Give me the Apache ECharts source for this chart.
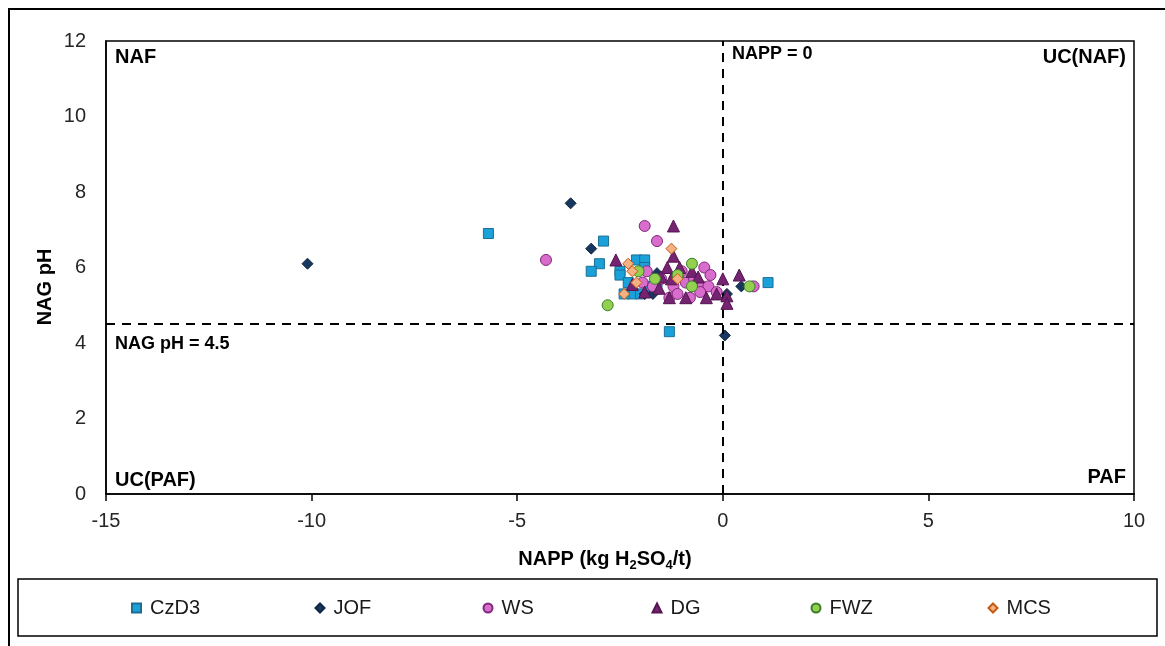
<!DOCTYPE html>
<html>
<head>
<meta charset="utf-8">
<script src="https://cdn.jsdelivr.net/npm/echarts@6/dist/echarts.min.js"></script>
<style>
  html, body { margin: 0; padding: 0; background: #fff; }
  #chart { width: 1165px; height: 646px; }
</style>
</head>
<body>
<div id="chart"></div>
<script>
// NAPP (kg H2SO4/t) vs NAG pH, one list of [NAPP, NAG pH] pairs per unit
const seriesNames = ['CzD3', 'JOF', 'WS', 'DG', 'FWZ', 'MCS'];

const czd3 = [
  [-5.7, 6.9], [-2.9, 6.7], [-3.0, 6.1], [-3.2, 5.9], [-2.1, 6.2], [-1.9, 6.2],
  [-1.9, 6.0], [-2.5, 5.9], [-2.5, 5.8], [-2.3, 5.6], [-2.2, 5.3], [-2.0, 5.3],
  [-2.4, 5.3], [-1.3, 4.3], [1.1, 5.6], [-1.8, 5.5], [-1.6, 5.6]
];
const jof = [
  [-10.1, 6.1], [-3.7, 7.7], [-3.2, 6.5], [-1.9, 5.3], [-1.7, 5.3], [-1.6, 5.85],
  [0.45, 5.5], [0.05, 4.2], [0.1, 5.3]
];
const ws = [
  [-4.3, 6.2], [-1.9, 7.1], [-1.6, 6.7], [-1.85, 5.9], [-1.95, 5.6], [-1.5, 5.7],
  [-1.2, 5.5], [-1.3, 5.2], [-1.1, 5.3], [-0.9, 5.6], [-0.7, 5.7], [-0.45, 6.0],
  [-0.3, 5.8], [-0.5, 5.5], [-0.35, 5.5], [-0.8, 5.2], [-0.55, 5.35], [-0.15, 5.35],
  [0.75, 5.5], [-1.7, 5.5], [-1.0, 5.9]
];
const dg = [
  [-1.2, 7.1], [-2.6, 6.2], [-1.2, 6.3], [-1.35, 6.0], [-1.05, 6.0], [-1.5, 5.75],
  [-1.25, 5.7], [-0.75, 5.9], [-0.6, 5.75], [0.0, 5.7], [0.4, 5.8], [-1.55, 5.45],
  [-1.3, 5.2], [-0.4, 5.2], [-0.15, 5.3], [0.1, 5.25], [0.1, 5.05], [-2.2, 5.55],
  [-0.9, 5.2], [-1.9, 5.35]
];
const fwz = [
  [-2.8, 5.0], [-0.75, 6.1], [-1.1, 5.8], [-1.65, 5.7], [-2.05, 5.9], [-0.75, 5.5],
  [0.65, 5.5]
];
const mcs = [
  [-1.25, 6.5], [-2.3, 6.1], [-2.2, 5.9], [-1.1, 5.7], [-2.1, 5.6], [-2.4, 5.3]
];

// classification limits
const nappLimit = 0;
const nagPhLimit = 4.5;

// axis ranges and tick spacing
const xMin = -15, xMax = 10, xStep = 5;
const yMin = 0, yMax = 12, yStep = 2;

const FONT = '"Liberation Sans", Arial, sans-serif';

const seriesData = [czd3, jof, ws, dg, fwz, mcs];
const styles = [
  { symbol: 'rect', size: 10, color: '#1BA1DA', border: '#1B6F93' },
  { symbol: 'diamond', size: 11, color: '#17375E', border: '#0E2642' },
  { symbol: 'circle', size: 11, color: '#D86DCD', border: '#80287A' },
  { symbol: 'triangle', size: 12, color: '#742470', border: '#561452' },
  { symbol: 'circle', size: 11, color: '#92D050', border: '#3E7D26' },
  { symbol: 'diamond', size: 11, color: '#F4B183', border: '#C55A11' }
];

const series = seriesNames.map((name, i) => ({
  name: name,
  type: 'scatter',
  data: seriesData[i],
  symbol: styles[i].symbol,
  symbolSize: styles[i].size,
  itemStyle: { color: styles[i].color, borderColor: styles[i].border, borderWidth: 1, opacity: 1 },
  emphasis: { disabled: true },
  z: 3 + i
}));

// dashed limit lines
series[0].markLine = {
  silent: true,
  symbol: 'none',
  animation: false,
  label: { show: false },
  lineStyle: { color: '#000', width: 2, type: [9, 7] },
  data: [{ xAxis: nappLimit }, { yAxis: nagPhLimit }]
};

// one legend block per unit, spread across the framed strip
const legendCenters = [135.5, 319, 487, 656, 815, 992];
const legends = seriesNames.map((name, i) => ({
  data: [name],
  left: legendCenters[i] - 4.5,
  top: 598,
  padding: 0,
  itemWidth: 9,
  itemHeight: 9,
  itemGap: 0,
  selectedMode: false,
  textStyle: { fontFamily: FONT, fontSize: 20, color: '#1a1a1a', padding: [0, 0, 0, 4] }
}));

const boldLabel = (text, x, y, align, size) => ({
  type: 'text',
  x: x, y: y,
  style: {
    text: text,
    align: align || 'left',
    verticalAlign: 'middle',
    font: 'bold ' + (size || 20) + 'px ' + FONT,
    fill: '#000'
  },
  silent: true,
  z: 20
});

const chart = echarts.init(document.getElementById('chart'), null, { renderer: 'canvas' });
chart.setOption({
  animation: false,
  backgroundColor: '#fff',
  grid: {
    left: 106, right: 31, top: 41, bottom: 152,
    show: true, borderColor: '#000', borderWidth: 1.5, backgroundColor: '#fff'
  },
  legend: legends,
  xAxis: {
    type: 'value',
    min: xMin, max: xMax, interval: xStep,
    axisLine: { show: true, onZero: false, lineStyle: { color: '#000', width: 1.5 } },
    axisTick: { show: true, inside: false, length: 7, lineStyle: { color: '#000', width: 1.5 } },
    axisLabel: { margin: 17, fontFamily: FONT, fontSize: 20, color: '#262626' },
    splitLine: { show: false }
  },
  yAxis: {
    type: 'value',
    min: yMin, max: yMax, interval: yStep,
    axisLine: { show: true, onZero: false, lineStyle: { color: '#000', width: 1.5 } },
    axisTick: { show: false },
    axisLabel: { margin: 20, fontFamily: FONT, fontSize: 20, color: '#262626' },
    splitLine: { show: false }
  },
  graphic: [
    // outer frame
    { type: 'rect', shape: { x: 9, y: 9, width: 1200, height: 700 },
      style: { fill: 'none', stroke: '#000', lineWidth: 2 }, silent: true, z: 0 },
    // legend frame
    { type: 'rect', shape: { x: 18, y: 579, width: 1139, height: 57 },
      style: { fill: 'none', stroke: '#000', lineWidth: 1.5 }, silent: true, z: 0 },
    // axis titles
    { type: 'text', x: 605, y: 561, silent: true,
      style: {
        text: '{b|NAPP (kg H}{s|2}{b|SO}{s|4}{b|/t)}',
        align: 'center', verticalAlign: 'middle',
        rich: {
          b: { font: 'bold 20px ' + FONT, fill: '#000', verticalAlign: 'top', lineHeight: 24 },
          s: { font: 'bold 13px ' + FONT, fill: '#000', verticalAlign: 'top', lineHeight: 24, padding: [10, 0, 0, 0] }
        }
      } },
    { type: 'text', x: 45, y: 287, rotation: Math.PI / 2, silent: true,
      style: { text: 'NAG pH', align: 'center', verticalAlign: 'middle',
        font: 'bold 20px ' + FONT, fill: '#000' } },
    // quadrant and limit labels
    boldLabel('NAF', 115, 57),
    boldLabel('UC(NAF)', 1126, 57, 'right'),
    boldLabel('UC(PAF)', 115, 480),
    boldLabel('PAF', 1126, 477, 'right'),
    boldLabel('NAPP = 0', 732, 54, 'left', 18),
    boldLabel('NAG pH = 4.5', 115, 344, 'left', 18)
  ],
  series: series
});
</script>
</body>
</html>
